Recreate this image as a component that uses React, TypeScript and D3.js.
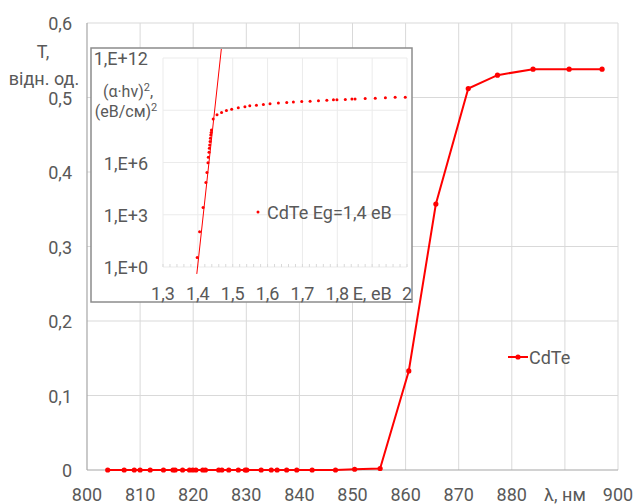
import React from "react";
import * as d3 from "d3";

// Main chart: transmission T vs wavelength
const lambda = [803.9, 807.0, 808.9, 810.0, 811.9, 814.4, 816.2, 816.6, 818.0, 819.3, 819.9, 820.5, 821.8, 822.3, 824.8, 825.4, 826.7, 828.5, 829.8, 830.1, 832.8, 834.7, 835.8, 837.6, 839.5, 842.4, 846.8, 850.4, 855.2, 860.6, 865.7, 871.8, 877.3, 884.0, 890.8, 897.0];
const transm = [0, 0, 0, 0, 0, 0, 0, 0, 0, 0, 0, 0, 0, 0, 0, 0, 0, 0, 0, 0, 0, 0, 0, 0, 0, 0, 0, 0.001, 0.002, 0.133, 0.357, 0.512, 0.530, 0.538, 0.538, 0.538];
const xTicks = [800, 810, 820, 830, 840, 850, 860, 870, 880, 890, 900];
const xTickLabels = ["800", "810", "820", "830", "840", "850", "860", "870", "880", "λ, нм", "900"];
const yTicks = [0, 0.1, 0.2, 0.3, 0.4, 0.5, 0.6];
const yTickLabels = ["0", "0,1", "0,2", "0,3", "0,4", "0,5", "0,6"];
const seriesName = "CdTe";

// Inset: (alpha*hv)^2 vs E (log scale)
const energy = [1.398, 1.405, 1.415, 1.423, 1.426, 1.429, 1.430, 1.432, 1.433, 1.434, 1.435, 1.436, 1.437, 1.438, 1.439, 1.444, 1.455, 1.468, 1.482, 1.497, 1.516, 1.535, 1.549, 1.568, 1.588, 1.607, 1.631, 1.655, 1.674, 1.698, 1.722, 1.746, 1.770, 1.789, 1.799, 1.823, 1.842, 1.851, 1.880, 1.909, 1.938, 1.966, 1.995];
const absorb = [3.5, 105, 2.6e3, 7.2e4, 2.7e5, 9.8e5, 2.0e6, 3.9e6, 6.6e6, 1.0e7, 1.6e7, 2.5e7, 3.8e7, 5.2e7, 7.4e7, 3.1e8, 5.5e8, 7.4e8, 9.8e8, 1.15e9, 1.38e9, 1.58e9, 1.82e9, 1.95e9, 2.14e9, 2.34e9, 2.57e9, 2.82e9, 2.95e9, 3.16e9, 3.31e9, 3.47e9, 3.80e9, 3.98e9, 3.98e9, 4.17e9, 4.37e9, 4.37e9, 4.79e9, 4.90e9, 5.25e9, 5.50e9, 5.62e9];
const fitE = [1.397, 1.47];
const fitA = [0.4, 1e13];
const eTicks = [1.3, 1.4, 1.5, 1.6, 1.7, 1.8, 1.9, 2.0];
const eTickLabels = ["1,3", "1,4", "1,5", "1,6", "1,7", "1,8", "E, eB", "2"];
const aTicks = [1, 1e3, 1e6, 1e9, 1e12];
const aTickLabels = ["1,E+0", "1,E+3", "1,E+6", "", "1,E+12"];
const insetLegend = "CdTe Eg=1,4 eB";

const TEXT = "#595959";
const GRID = "#d9d9d9";
const RED = "#ff0000";
const FONT = "Roboto, 'Liberation Sans', Arial, sans-serif";

export default function App() {
  const x = d3.scaleLinear().domain([800, 900]).range([87, 618]);
  const y = d3.scaleLinear().domain([0, 0.6]).range([470, 23]);
  const pts = lambda.map((l, i) => [l, transm[i]] as [number, number]);
  const line = d3.line<[number, number]>().x(d => x(d[0])).y(d => y(d[1]));

  const ex = d3.scaleLinear().domain([1.3, 2.0]).range([163, 407]);
  const ay = d3.scaleLog().domain([1, 1e12]).range([267, 58]);
  const minor = d3.range(1.3, 2.0001, 0.02);

  const inset = { x: 91, y: 48, w: 321, h: 254 };

  return (
    <svg width={633} height={504} style={{ position: "absolute", left: 0, top: 0, background: "#fff" }} fontFamily={FONT}>
      <defs>
        <clipPath id="insetClip">
          <rect x={inset.x + 1} y={inset.y + 1} width={inset.w - 2} height={inset.h - 2} />
        </clipPath>
      </defs>
      <rect x={0} y={0} width={633} height={504} fill="#fff" />
      {/* main grid */}
      {xTicks.slice(1).map(t => (
        <line key={"gx" + t} x1={x(t)} x2={x(t)} y1={y(0.6)} y2={y(0)} stroke={GRID} strokeWidth={1} />
      ))}
      {yTicks.slice(1).map(t => (
        <line key={"gy" + t} x1={x(800)} x2={x(900)} y1={y(t)} y2={y(t)} stroke={GRID} strokeWidth={1} />
      ))}
      {/* axes */}
      <line x1={x(800)} x2={x(800)} y1={y(0.6)} y2={y(0)} stroke="#a6a6a6" strokeWidth={1.2} />
      <line x1={x(800)} x2={x(900)} y1={y(0)} y2={y(0)} stroke="#a6a6a6" strokeWidth={1.2} />
      {/* tick labels */}
      {yTicks.map((t, i) => (
        <text key={"yl" + t} x={72} y={y(t) + 7} textAnchor="end" fontSize={18} fill={TEXT}>{yTickLabels[i]}</text>
      ))}
      {xTicks.map((t, i) => (
        <text key={"xl" + t} x={x(t)} y={501} textAnchor="middle" fontSize={18} fill={TEXT}>{xTickLabels[i]}</text>
      ))}
      <text x={43} y={58} textAnchor="middle" fontSize={18} fill={TEXT}>T,</text>
      <text x={44} y={85} textAnchor="middle" fontSize={18} fill={TEXT}>відн. од.</text>
      {/* main series */}
      <path d={line(pts) || ""} fill="none" stroke={RED} strokeWidth={2} />
      {pts.map((p, i) => (
        <circle key={"p" + i} cx={x(p[0])} cy={y(p[1])} r={2.6} fill={RED} />
      ))}
      {/* legend */}
      <line x1={508} x2={528} y1={357} y2={357} stroke={RED} strokeWidth={2} />
      <circle cx={518} cy={357} r={2.6} fill={RED} />
      <text x={529} y={364} fontSize={18} fill={TEXT}>{seriesName}</text>

      {/* inset */}
      <rect x={inset.x} y={inset.y} width={inset.w} height={inset.h} fill="#fff" stroke="#8c8c8c" strokeWidth={1.5} />
      {eTicks.map(t => (
        <line key={"egx" + t} x1={ex(t)} x2={ex(t)} y1={ay(1e12)} y2={ay(1)} stroke="#ebebeb" strokeWidth={1} />
      ))}
      {aTicks.map(t => (
        <line key={"egy" + t} x1={ex(1.3)} x2={ex(2.0)} y1={ay(t)} y2={ay(t)} stroke="#ebebeb" strokeWidth={1} />
      ))}
      {minor.map((t, i) => (
        <line key={"mn" + i} x1={ex(t)} x2={ex(t)} y1={ay(1)} y2={ay(1) - 3} stroke="#d9d9d9" strokeWidth={1} />
      ))}
      {aTicks.map((t, i) => (
        <text key={"al" + i} x={148} y={ay(t) + 7} textAnchor="end" fontSize={18} fill={TEXT}>{aTickLabels[i]}</text>
      ))}
      <text x={128} y={97} textAnchor="middle" fontSize={16} fill={TEXT}>
        (α·hv)<tspan dy={-6} fontSize={11}>2</tspan><tspan dy={6}>,</tspan>
      </text>
      <text x={126} y={117} textAnchor="middle" fontSize={16} fill={TEXT}>
        (eB/см)<tspan dy={-6} fontSize={11}>2</tspan>
      </text>
      {eTicks.map((t, i) => (
        <text key={"el" + i} x={ex(t)} y={300} textAnchor="middle" fontSize={18} fill={TEXT}>{eTickLabels[i]}</text>
      ))}
      <g clipPath="url(#insetClip)">
        <line x1={ex(fitE[0])} y1={ay(fitA[0])} x2={ex(fitE[1])} y2={ay(fitA[1])} stroke={RED} strokeWidth={1} />
        {energy.map((e, i) => (
          <circle key={"ip" + i} cx={ex(e)} cy={ay(absorb[i])} r={1.5} fill={RED} />
        ))}
      </g>
      <circle cx={258} cy={212} r={1.5} fill={RED} />
      <text x={267} y={219} fontSize={18} fill={TEXT}>{insetLegend}</text>
    </svg>
  );
}
